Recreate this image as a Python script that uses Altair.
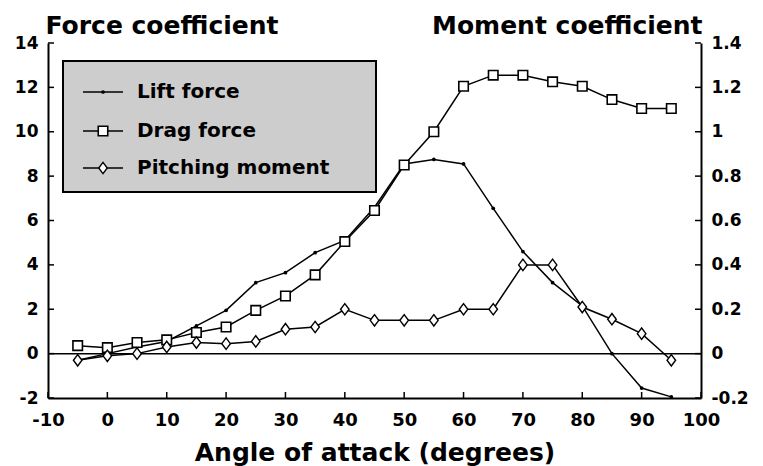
import altair as alt
import pandas as pd

# ---- data ----
angles = [-5, 0, 5, 10, 15, 20, 25, 30, 35, 40, 45, 50, 55, 60, 65, 70, 75, 80, 85, 90, 95]
lift = [-0.3, 0.0, 0.3, 0.55, 1.25, 1.95, 3.2, 3.65, 4.55, 5.1, 6.6, 8.55, 8.75, 8.55,
        6.55, 4.6, 3.2, 2.15, 0.0, -1.55, -1.95]
drag = [0.36, 0.27, 0.5, 0.62, 0.95, 1.2, 1.95, 2.6, 3.55, 5.05, 6.45, 8.5, 10.0, 12.05,
        12.55, 12.55, 12.25, 12.05, 11.45, 11.05, 11.05]
moment = [-0.03, -0.01, 0.0, 0.03, 0.05, 0.045, 0.055, 0.11, 0.12, 0.2, 0.15, 0.15, 0.15,
          0.2, 0.2, 0.4, 0.4, 0.21, 0.155, 0.09, -0.03]
series_names = ["Lift force", "Drag force", "Pitching moment"]
x_ticks = [-10, 0, 10, 20, 30, 40, 50, 60, 70, 80, 90, 100]
force_ticks = [-2, 0, 2, 4, 6, 8, 10, 12, 14]
moment_ticks = [-0.2, 0, 0.2, 0.4, 0.6, 0.8, 1, 1.2, 1.4]

W, H = 653, 355
FONT = "DejaVu Sans"
DIAMOND = "M0,-1L0.75,0L0,1L-0.75,0Z"

df = pd.DataFrame({"angle": angles, "lift": lift, "drag": drag, "moment": moment})

xs = alt.Scale(domain=[x_ticks[0], x_ticks[-1]], nice=False, zero=False)
ys = alt.Scale(domain=[force_ticks[0], force_ticks[-1]], nice=False, zero=False)
ms = alt.Scale(domain=[moment_ticks[0], moment_ticks[-1]], nice=False, zero=False)

common = dict(ticks=False, grid=False, domainColor="black", domainWidth=2,
              labelFont=FONT, labelFontWeight="bold", labelColor="black",
              titleFont=FONT, titleFontWeight="bold", titleColor="black",
              labelFlush=False, labelExpr="'' + datum.value", labelOverlap=False)

x_axis = alt.Axis(values=x_ticks, title="Angle of attack (degrees)", labelFontSize=18,
                  labelPadding=13, titleFontSize=25, titleY=62, titleBaseline="alphabetic",
                  **common)
left_axis = alt.Axis(values=force_ticks, orient="left", title="Force coefficient",
                     labelFontSize=17, labelPadding=10, titleFontSize=25, titleAngle=0,
                     titleAlign="left", titleBaseline="alphabetic", titleX=-3, titleY=-10,
                     **common)
right_axis = alt.Axis(values=moment_ticks, orient="right", title="Moment coefficient",
                      labelFontSize=17, labelPadding=10, titleFontSize=25, titleAngle=0,
                      titleAlign="right", titleBaseline="alphabetic", titleX=1, titleY=-10,
                      **common)

X = alt.X("angle:Q", scale=xs, axis=x_axis)
base = alt.Chart(df)

zero_line = alt.Chart(pd.DataFrame({"z": [0]})).mark_rule(color="black", strokeWidth=1.5).encode(
    y=alt.Y("z:Q", scale=ys, axis=left_axis))

lift_line = base.mark_line(color="black", strokeWidth=1.5).encode(
    x=X, y=alt.Y("lift:Q", scale=ys, axis=left_axis))
lift_pts = base.mark_point(filled=True, color="black", size=14, opacity=1).encode(
    x=X, y=alt.Y("lift:Q", scale=ys, axis=left_axis))
drag_line = base.mark_line(color="black", strokeWidth=1.5).encode(
    x=X, y=alt.Y("drag:Q", scale=ys, axis=left_axis))
drag_pts = base.mark_point(shape="square", filled=False, fill="white", fillOpacity=1,
                           stroke="black", strokeWidth=1.6, size=90, opacity=1).encode(
    x=X, y=alt.Y("drag:Q", scale=ys, axis=left_axis))

# inward ticks
left_ticks = alt.Chart(pd.DataFrame({"t": force_ticks})).mark_rule(color="black", strokeWidth=1.5).encode(
    y=alt.Y("t:Q", scale=ys, axis=left_axis), x=alt.value(0), x2=alt.value(6))
right_ticks = alt.Chart(pd.DataFrame({"t": force_ticks})).mark_rule(color="black", strokeWidth=1.5).encode(
    y=alt.Y("t:Q", scale=ys, axis=left_axis), x=alt.value(W - 6), x2=alt.value(W))
bottom_ticks = alt.Chart(pd.DataFrame({"t": x_ticks})).mark_rule(color="black", strokeWidth=1.5).encode(
    x=alt.X("t:Q", scale=xs, axis=x_axis), y=alt.value(H - 6), y2=alt.value(H))

# legend
legend_box = alt.Chart(pd.DataFrame({"a": [0]})).mark_rect(
    fill="#cdcdcd", stroke="black", strokeWidth=2).encode(
    x=alt.value(15), x2=alt.value(328), y=alt.value(18), y2=alt.value(149))
legend_layers = [legend_box]
row_y = [49, 88, 125]
marker_specs = [
    dict(filled=True, color="black", size=14),
    dict(shape="square", filled=False, fill="white", fillOpacity=1, stroke="black", strokeWidth=1.6, size=90),
    dict(shape=DIAMOND, filled=False, fill="white", fillOpacity=1, stroke="black", strokeWidth=1.4, size=130),
]
one = pd.DataFrame({"a": [0]})
for name, yy, mk in zip(series_names, row_y, marker_specs):
    legend_layers.append(alt.Chart(one).mark_rule(color="black", strokeWidth=1.5).encode(
        x=alt.value(35), x2=alt.value(75), y=alt.value(yy)))
    legend_layers.append(alt.Chart(one).mark_point(opacity=1, **mk).encode(
        x=alt.value(55), y=alt.value(yy)))
    legend_layers.append(alt.Chart(one).mark_text(
        align="left", baseline="middle", font=FONT, fontSize=20, fontWeight="bold",
        color="black").encode(x=alt.value(89), y=alt.value(yy), text=alt.value(name)))

left_group = alt.layer(zero_line, left_ticks, right_ticks, bottom_ticks,
                       lift_line, drag_line, lift_pts, drag_pts, *legend_layers)

mom_line = base.mark_line(color="black", strokeWidth=1.5).encode(
    x=X, y=alt.Y("moment:Q", scale=ms, axis=right_axis))
mom_pts = base.mark_point(shape=DIAMOND, filled=False, fill="white", fillOpacity=1,
                          stroke="black", strokeWidth=1.4, size=130, opacity=1).encode(
    x=X, y=alt.Y("moment:Q", scale=ms, axis=right_axis))
right_group = alt.layer(mom_line, mom_pts)

chart = alt.layer(left_group, right_group).resolve_scale(y="independent").properties(
    width=W, height=H,
    autosize=alt.AutoSizeParams(type="none"),
    padding={"left": 40, "top": 35, "right": 54, "bottom": 68},
    background="white",
).configure_view(stroke=None)

chart.save("out.html", embed_options={"renderer": "svg", "actions": False})
